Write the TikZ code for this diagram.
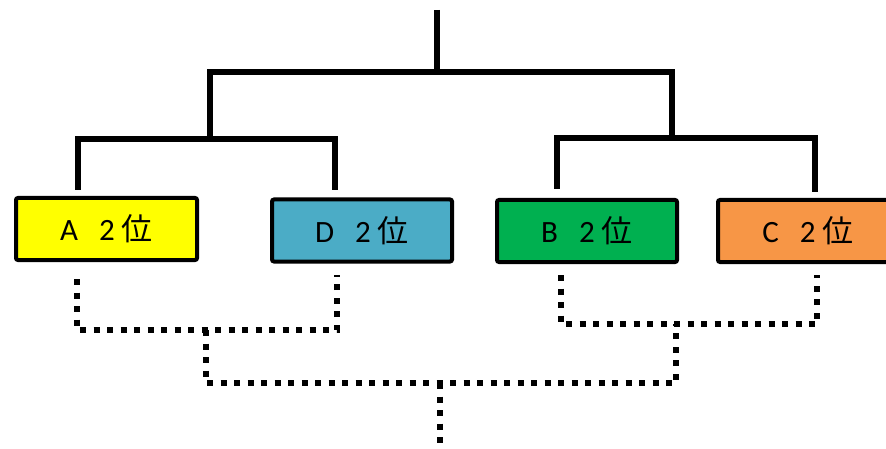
\documentclass[tikz,border=0pt]{standalone}
\usepackage{fontspec}
\setmainfont{Carlito}
\newfontfamily\jpfont{Noto Sans CJK JP}
\definecolor{cyellow}{HTML}{FFFF00}
\definecolor{cblue}{HTML}{4BACC6}
\definecolor{cgreen}{HTML}{00B050}
\definecolor{corange}{HTML}{F79646}
\begin{document}
\begin{tikzpicture}[x=1pt,y=-1pt,
  tree/.style={line width=6pt, line join=miter},
  dots/.style={line width=6pt, dash pattern=on 6pt off 7.5pt},
  box/.style={draw, line width=4pt, rounded corners=2pt, minimum width=180pt,
    minimum height=62pt, inner sep=0pt, font=\fontsize{31}{36}\selectfont}]
\useasboundingbox (0,0) rectangle (886,449);
\newcommand{\lbl}[1]{#1\hspace{21pt}2\hspace{7pt}{\jpfont 位}}
\node[box, fill=cyellow, minimum width=181pt] (A) at (106.5,229) {\lbl{A}};
\node[box, fill=cblue] (D) at (362,230.5) {\lbl{D}};
\node[box, fill=cgreen] (B) at (587,231) {\lbl{B}};
\node[box, fill=corange] (C) at (808,231) {\lbl{C}};
% solid tree coordinates
\coordinate (root) at (437,10);
\coordinate (rootj) at (437,72);
\coordinate (tl) at (210,72);
\coordinate (tr) at (672,72);
\coordinate (ljl) at (210,139);
\coordinate (rjr) at (672,138);
\coordinate (la1) at (78,190);
\coordinate (la2) at (78,139);
\coordinate (ld2) at (335,139);
\coordinate (ld1) at (335,190);
\coordinate (rb1) at (557,189);
\coordinate (rb2) at (557,138);
\coordinate (rc2) at (815,138);
\coordinate (rc1) at (815,192);
\draw[tree] (root) -- (rootj);
\draw[tree] (ljl) -- (tl) -- (tr) -- (rjr);
\draw[tree] (la1) -- (la2) -- (ld2) -- (ld1);
\draw[tree] (rb1) -- (rb2) -- (rc2) -- (rc1);
% dotted tree coordinates
\coordinate (da1) at (77,279);
\coordinate (da2) at (77,330);
\coordinate (dd2) at (337,330);
\coordinate (dd1) at (337,275);
\coordinate (dl1) at (206,330);
\coordinate (dl2) at (206,383);
\coordinate (dr2) at (676,383);
\coordinate (dr1) at (676,324);
\coordinate (db1) at (561,275);
\coordinate (db2) at (561,324);
\coordinate (dc2) at (817,324);
\coordinate (dc1) at (817,275);
\coordinate (bot1) at (440,383);
\coordinate (bot2) at (440,449);
\draw[dots] (da1) -- (da2) -- (dd2) -- (dd1);
\draw[dots] (dl1) -- (dl2) -- (dr2) -- (dr1);
\draw[dots] (db1) -- (db2) -- (dc2) -- (dc1);
\draw[dots] (bot1) -- (bot2);
\end{tikzpicture}
\end{document}
